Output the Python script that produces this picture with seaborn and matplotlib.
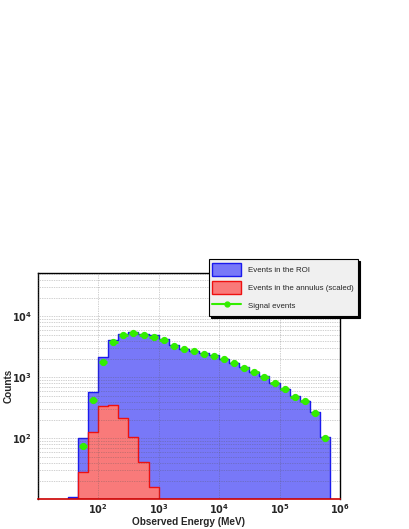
import numpy as np
import pandas as pd
import matplotlib
matplotlib.use("Agg")
import matplotlib.pyplot as plt
import seaborn as sns
from matplotlib.patches import Patch
from matplotlib.lines import Line2D
from matplotlib.ticker import LogLocator, NullFormatter

# ---- data ----
# bin edges: 1/6 decade, from 10^1.5 to 10^5.833 MeV
edge_exponents = [1.5 + i / 6 for i in range(27)]
roi_counts = [11, 100, 568, 2130, 4140, 5070, 5540, 5130, 4890, 4300, 3350,
              2950, 2740, 2470, 2290, 2020, 1740, 1460, 1240, 1040, 808,
              652, 489, 414, 267, 104]
annulus_counts = [0, 28, 127, 335, 350, 215, 106, 41, 16, 0, 0,
                  0, 0, 0, 0, 0, 0, 0, 0, 0, 0, 0, 0, 0, 0, 0]
signal_counts = [np.nan, 74, 430, 1780, 3790, 4890, 5330, 4890, 4640, 4140,
                 3220, 2880, 2680, 2420, 2240, 1980, 1700, 1440, 1220, 1020,
                 795, 640, 480, 405, 262, 102]
legend_labels = ["Events in the ROI", "Events in the annulus (scaled)", "Signal events"]

edges = [10 ** e for e in edge_exponents]
centers = [10 ** ((a + b) / 2) for a, b in zip(edge_exponents[:-1], edge_exponents[1:])]

df = pd.DataFrame({"energy": centers, "roi": roi_counts,
                   "annulus": annulus_counts, "signal": signal_counts})

# ---- style ----
sns.set_style("white")
plt.rcParams["font.family"] = ["Liberation Sans", "DejaVu Sans"]
plt.rcParams["mathtext.default"] = "regular"

W, H = 409, 529
fig = plt.figure(figsize=(W / 100, H / 100), dpi=100)
ax = fig.add_axes([37.7 / W, 1 - 499.3 / H, (340 - 37.7) / W, (499.3 - 273.3) / H])

blue_fill = "#7878f8"
red_fill = "#f97a7a"
green = "#33ee00"

sns.histplot(data=df, x="energy", weights="roi", bins=edges, element="step",
             fill=True, color=blue_fill, alpha=1, edgecolor="#1a1aee",
             linewidth=1.0, ax=ax, zorder=1)
red_df = df[df["annulus"] > 0]
red_edges = edges[1:10]
sns.histplot(data=red_df, x="energy", weights="annulus", bins=red_edges, element="step",
             fill=True, color=red_fill, alpha=1, edgecolor="#ee1111",
             linewidth=1.0, ax=ax, zorder=2)

ax.set_xscale("log")
ax.set_yscale("log")

half = 0.07
sig = df.dropna(subset=["signal"])
xe_lo = sig["energy"] - sig["energy"] * 10 ** (-half)
xe_hi = sig["energy"] * 10 ** (half) - sig["energy"]
ax.errorbar(sig["energy"], sig["signal"], xerr=[xe_lo, xe_hi], fmt="o",
            color=green, markersize=4.2, elinewidth=2.0, capsize=0, zorder=5)

ax.set_xlim(10, 1e6)
ax.set_ylim(10, 5.1e4)

# grid on top
ax.set_axisbelow(False)
ax.yaxis.set_major_locator(LogLocator(base=10, numticks=10))
ax.yaxis.set_minor_locator(LogLocator(base=10, subs=np.arange(2, 10), numticks=20))
ax.xaxis.set_major_locator(LogLocator(base=10, numticks=10))
ax.xaxis.set_minor_locator(LogLocator(base=10, subs=np.arange(2, 10), numticks=20))
ax.grid(True, which="major", axis="both", color="#555555", linestyle=(0, (1, 1.5)),
        linewidth=0.5, alpha=0.55, zorder=4)
ax.grid(True, which="minor", axis="y", color="#555555", linestyle=(0, (1, 1.5)),
        linewidth=0.5, alpha=0.55, zorder=4)

def fmt(v, pos):
    e = int(round(np.log10(v)))
    if e <= 1:
        return ""
    return r"$\mathbf{10^{%d}}$" % e

ax.xaxis.set_major_formatter(plt.FuncFormatter(fmt))
ax.yaxis.set_major_formatter(plt.FuncFormatter(fmt))
ax.xaxis.set_minor_formatter(NullFormatter())
ax.yaxis.set_minor_formatter(NullFormatter())
ax.tick_params(axis="both", which="major", direction="in", length=8, width=0.8,
               labelsize=7.0, pad=2)
ax.tick_params(axis="both", which="minor", direction="in", length=4, width=0.6)
ax.tick_params(axis="y", which="major", pad=4)
ax.tick_params(top=False, right=False)

for s in ["left", "top", "right"]:
    ax.spines[s].set_color("black")
    ax.spines[s].set_linewidth(1.0)
ax.spines["bottom"].set_color("#cc0000")
ax.spines["bottom"].set_linewidth(1.2)

ax.set_xlabel("Observed Energy (MeV)", fontsize=7.2, fontweight="bold")
ax.set_ylabel("Counts", fontsize=7.2, fontweight="bold")
ax.xaxis.set_label_coords(0.5, -0.08)
ax.yaxis.set_label_coords(-0.08, 0.5)

handles = [Patch(facecolor=blue_fill, edgecolor="#1a1aee", linewidth=1.0),
           Patch(facecolor=red_fill, edgecolor="#ee1111", linewidth=1.0),
           Line2D([0], [0], color=green, marker="o", markersize=3.5, linewidth=1.5)]
leg = fig.legend(handles, legend_labels, loc="upper left",
                 bbox_to_anchor=(208.5 / W, 1 - 259 / H), bbox_transform=fig.transFigure,
                 fontsize=5.7, frameon=True, fancybox=False,
                 shadow={"color": "black", "alpha": 1, "ox": 1.5, "oy": -1.5},
                 handlelength=3.6, handleheight=2.1, labelspacing=0.7,
                 borderpad=0.5, handletextpad=0.9, borderaxespad=0)
leg.get_frame().set_facecolor("#f0f0f0")
leg.get_frame().set_edgecolor("black")
leg.get_frame().set_linewidth(0.8)
leg.set_zorder(10)

fig.savefig("out.png", dpi=100)
